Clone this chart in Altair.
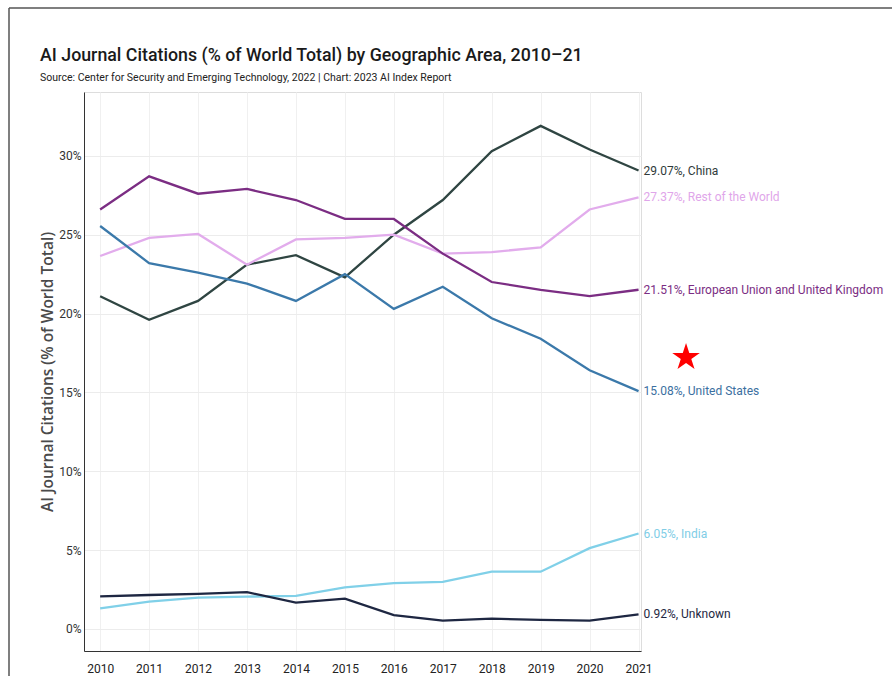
import altair as alt
import pandas as pd

# ---- data ----
years = [2010, 2011, 2012, 2013, 2014, 2015, 2016, 2017, 2018, 2019, 2020, 2021]
areas = ["China", "Rest of the World", "European Union and United Kingdom",
         "United States", "India", "Unknown"]
china = [21.1, 19.6, 20.8, 23.1, 23.7, 22.3, 25.0, 27.2, 30.3, 31.9, 30.4, 29.07]
rest_of_world = [23.65, 24.8, 25.05, 23.1, 24.7, 24.8, 25.0, 23.8, 23.9, 24.2, 26.6, 27.37]
eu_uk = [26.6, 28.7, 27.6, 27.9, 27.2, 26.0, 26.0, 23.8, 22.0, 21.5, 21.1, 21.51]
united_states = [25.55, 23.2, 22.6, 21.9, 20.8, 22.5, 20.3, 21.7, 19.7, 18.4, 16.4, 15.08]
india = [1.31, 1.73, 1.98, 2.05, 2.09, 2.64, 2.9, 2.98, 3.63, 3.63, 5.12, 6.05]
unknown = [2.07, 2.15, 2.22, 2.33, 1.67, 1.92, 0.87, 0.53, 0.65, 0.57, 0.53, 0.92]
series = [china, rest_of_world, eu_uk, united_states, india, unknown]

line_colors = ["#2f4542", "#e2acec", "#7b2d83", "#3b79aa", "#80d0e8", "#1e2742"]
label_colors = ["#2f3a3a", "#dfa6ea", "#7b2d83", "#3b6fa0", "#80cde6", "#1e2742"]

y_ticks = [0, 5, 10, 15, 20, 25, 30]

# red star annotation (position)
star_year = [2021.97]
star_value = [17.22]
STAR_PATH = ("M0,-1L0.2245,-0.309L0.9511,-0.309L0.3633,0.118L0.5878,0.809L0,0.382"
             "L-0.5878,0.809L-0.3633,0.118L-0.9511,-0.309L-0.2245,-0.309Z")

rows = []
for area, vals in zip(areas, series):
    for yr, v in zip(years, vals):
        rows.append({"area": area, "year": yr, "value": v})
df = pd.DataFrame(rows)
end = df[df["year"] == years[-1]].copy()
end["label"] = end["value"].map(lambda v: f"{v:.2f}%") + ", " + end["area"]

FONT = "Roboto"
xscale = alt.Scale(domain=[2009.67, 2021.05], nice=False, zero=False)
yscale = alt.Scale(domain=[-1.4, 34.05], nice=False, zero=False)

x_axis = alt.Axis(values=years, format="d", title=None, grid=True, orient="bottom",
                  gridColor="#f0f0f0", ticks=False, tickSize=0,
                  labelPadding=12, labelFontSize=12, labelColor="#222",
                  labelFont=FONT, domainColor="#333", labelFlush=False)
y_axis = alt.Axis(values=y_ticks, labelExpr="datum.value + '%'", orient="left",
                  title="AI Journal Citations (% of World Total)",
                  titleFont="Open Sans", titleFontSize=15.5, titleFontWeight=600,
                  titleColor="#4a4a4a", titlePadding=3,
                  grid=True, gridColor="#ececec", ticks=False, tickSize=0,
                  labelPadding=3, labelFontSize=12, labelColor="#333",
                  labelFont=FONT, domainColor="#333")

x_enc = alt.X("year:Q", scale=xscale, axis=x_axis)
y_enc = alt.Y("value:Q", scale=yscale, axis=y_axis)

lines = alt.Chart(df).mark_line(strokeWidth=2.3).encode(
    x=x_enc, y=y_enc,
    color=alt.Color("area:N", scale=alt.Scale(domain=areas, range=line_colors), legend=None),
    detail="area:N",
)

labels = alt.Chart(end).mark_text(align="left", baseline="middle", dx=5,
                                  fontSize=12, font=FONT).encode(
    x=x_enc, y=y_enc,
    text="label:N",
    color=alt.Color("area:N", scale=alt.Scale(domain=areas, range=label_colors), legend=None),
)

star = alt.Chart(pd.DataFrame({"year": star_year, "value": star_value})).mark_point(
    shape=STAR_PATH, filled=True, color="#ff0000", size=840, opacity=1).encode(
    x=x_enc, y=y_enc)

dummy = pd.DataFrame({"k": [0]})
frame_top = alt.Chart(dummy).mark_rule(color="#555", strokeWidth=1.5).encode(
    x=alt.value(-75), x2=alt.value(808), y=alt.value(-84))
frame_left = alt.Chart(dummy).mark_rule(color="#555", strokeWidth=1.5).encode(
    x=alt.value(-75), y=alt.value(-84), y2=alt.value(600))

chart = alt.layer(lines, labels, star, frame_top, frame_left).resolve_scale(
    color="independent"
).properties(
    width=557, height=559,
    padding={"left": 84, "top": 92, "right": 251, "bottom": 25},
    autosize=alt.AutoSizeParams(type="none"),
    title=alt.TitleParams(
        text="AI Journal Citations (% of World Total) by Geographic Area, 2010–21",
        subtitle="Source: Center for Security and Emerging Technology, 2022 | Chart: 2023 AI Index Report",
        anchor="start", frame="group", dx=-44, offset=9, dy=84.75,
        font=FONT, fontSize=17.8, fontWeight=500, color="#1a1a1a",
        subtitleFont=FONT, subtitleFontSize=10.5, subtitleColor="#222",
        subtitlePadding=8,
    ),
).configure_view(stroke=None).configure(background="white")

chart.save("out.html", embed_options={"renderer": "svg", "actions": False})
